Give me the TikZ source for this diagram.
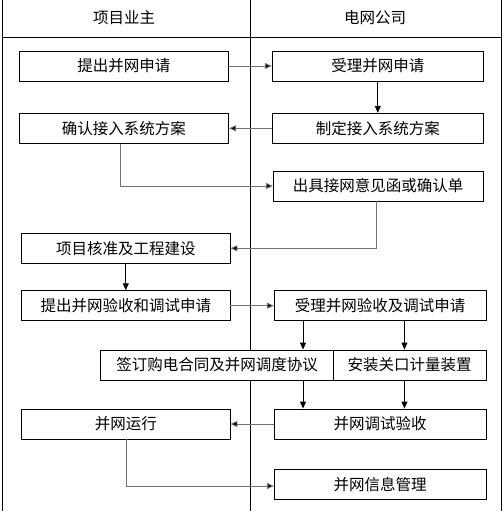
\documentclass[tikz,border=0pt]{standalone}
\usepackage{fontspec}
\setmainfont{Noto Sans CJK SC}
\usepackage{tikz}
\usetikzlibrary{calc}
\usetikzlibrary{arrows.meta}
\colorlet{linkgray}{black!55}

\begin{document}
\begin{tikzpicture}[x=1pt,y=-1pt,
  box/.style={draw,line width=0.9pt,fill=white,minimum height=30pt,inner sep=0pt,font=\fontsize{15.5}{18}\selectfont},
  lane/.style={line width=0.9pt},
  link/.style={line width=0.9pt,-{Triangle[length=7pt,width=6pt]}},
  glink/.style={link,draw=linkgray,-{Triangle[length=7pt,width=6pt,fill=black]}}]
\useasboundingbox (0,0) rectangle (503,513);
\draw[lane] (2,0) -- (2,511);
\draw[lane] (250.5,0) -- (250.5,511);
\draw[lane] (501,0) -- (501,511);
\draw[lane] (2,37) -- (501,37);
\node[font=\fontsize{15.5}{18}\selectfont] (owner) at (124,18) {项目业主};
\node[font=\fontsize{15.5}{18}\selectfont] (grid) at (375,18) {电网公司};

\node[box,minimum width=209.5pt] (apply) at (123.8,66) {提出并网申请};
\node[box,minimum width=211pt] (accept) at (377.8,66) {受理并网申请};
\node[box,minimum width=211pt] (plan) at (377.8,128.3) {制定接入系统方案};
\node[box,minimum width=209.5pt] (confirm) at (123.8,128.3) {确认接入系统方案};
\node[box,minimum width=209.7pt] (letter) at (378.2,186) {出具接网意见函或确认单};
\node[box,minimum width=208.3pt] (build) at (125.8,248.3) {项目核准及工程建设};
\node[box,minimum width=208.3pt] (testapply) at (125.8,305.7) {提出并网验收和调试申请};
\node[box,minimum width=211.7pt] (testaccept) at (380.2,305.7) {受理并网验收及调试申请};
\node[box,minimum width=232.6pt] (contract) at (217,365) {签订购电合同及并网调度协议};
\node[box,minimum width=152.7pt] (meter) at (409.7,365) {安装关口计量装置};
\node[box,minimum width=211.7pt] (check) at (380.2,424) {并网调试验收};
\node[box,minimum width=208.3pt] (run) at (125.8,424) {并网运行};
\node[box,minimum width=211.7pt] (info) at (380.2,484.3) {并网信息管理};

\coordinate (pa) at ($(testaccept.south west)!0.137!(testaccept.south east)$);
\coordinate (pb) at ($(testaccept.south west)!0.614!(testaccept.south east)$);

\draw[glink] (apply) -- (accept);
\draw[link] (accept) -- (plan);
\draw[glink] (plan) -- (confirm);
\draw[glink] ($(confirm.south)+(-3,0)$) |- (letter.west);
\draw[glink] ($(letter.south)+(-2,0)$) |- (build.east);
\draw[link] (build) -- (testapply);
\draw[glink] (testapply) -- (testaccept);
\draw[link] (pa) -- (pa |- contract.north);
\draw[link] (pb) -- (pb |- meter.north);
\draw[link] (pa |- contract.south) -- (pa |- check.north);
\draw[link] (pb |- meter.south) -- (pb |- check.north);
\draw[glink] (check) -- (run);
\draw[glink] ($(run.south)+(1,0)$) |- ($(info.west)+(0,1.7)$);
\end{tikzpicture}
\end{document}
